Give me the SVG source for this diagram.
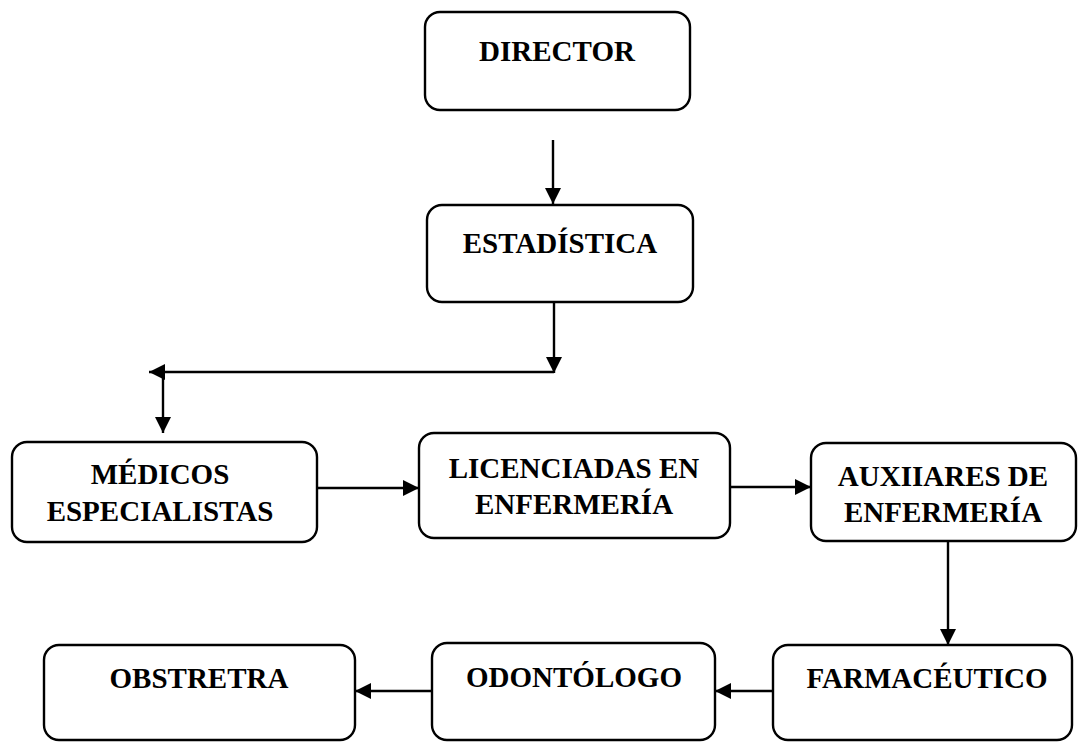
<svg xmlns="http://www.w3.org/2000/svg" width="1084" height="742" viewBox="0 0 1084 742">
<style>
.box{fill:#fff;stroke:#000;stroke-width:2.4}
.t{font-family:'Liberation Serif','Times New Roman',Times,'DejaVu Serif',serif;font-weight:700;font-size:29px;fill:#000;text-anchor:middle}
.c{fill:none;stroke:#000;stroke-width:2.4}
</style>
<defs>
<marker id="ah" viewBox="0 0 16 16" refX="16" refY="8" markerWidth="16" markerHeight="16" markerUnits="userSpaceOnUse" orient="auto">
<path d="M0,0 L16,8 L0,16 z" fill="#000"/>
</marker>
</defs>
<rect width="1084" height="742" fill="#fff"/>
<g id="connectors">
<path class="c" d="M553,140 V204" marker-end="url(#ah)"/>
<path class="c" d="M554,302 V373" marker-end="url(#ah)"/>
<path class="c" d="M554,372 H149" marker-end="url(#ah)"/>
<path class="c" d="M163,372 V433" marker-end="url(#ah)"/>
<path class="c" d="M317,488 H419" marker-end="url(#ah)"/>
<path class="c" d="M730,487 H811" marker-end="url(#ah)"/>
<path class="c" d="M948,528 V645" marker-end="url(#ah)"/>
<path class="c" d="M773,691 H715" marker-end="url(#ah)"/>
<path class="c" d="M432,691 H355" marker-end="url(#ah)"/>
</g>
<g id="director">
<rect class="box" x="425" y="12" width="265" height="98" rx="15"/>
<text class="t" font-family="Liberation Serif, serif" x="557" y="61">DIRECTOR</text>
</g>
<g id="estadistica">
<rect class="box" x="427" y="205" width="266" height="97" rx="15"/>
<text class="t" font-family="Liberation Serif, serif" x="560" y="253">ESTADÍSTICA</text>
</g>
<g id="medicos">
<rect class="box" x="12" y="442" width="305" height="100" rx="15"/>
<text class="t" font-family="Liberation Serif, serif" x="160" y="484">MÉDICOS</text>
<text class="t" font-family="Liberation Serif, serif" x="160" y="521">ESPECIALISTAS</text>
</g>
<g id="licenciadas">
<rect class="box" x="419" y="433" width="311" height="105" rx="15"/>
<text class="t" font-family="Liberation Serif, serif" x="574" y="478">LICENCIADAS EN</text>
<text class="t" font-family="Liberation Serif, serif" x="574" y="514">ENFERMERÍA</text>
</g>
<g id="auxiliares">
<rect class="box" x="811" y="443" width="265" height="98" rx="15"/>
<text class="t" font-family="Liberation Serif, serif" x="943" y="486">AUXIIARES DE</text>
<text class="t" font-family="Liberation Serif, serif" x="943" y="522">ENFERMERÍA</text>
</g>
<g id="farmaceutico">
<rect class="box" x="773" y="645" width="299" height="95" rx="15"/>
<text class="t" font-family="Liberation Serif, serif" x="927" y="688">FARMACÉUTICO</text>
</g>
<g id="odontologo">
<rect class="box" x="432" y="643" width="283" height="97" rx="15"/>
<text class="t" font-family="Liberation Serif, serif" x="574" y="687">ODONTÓLOGO</text>
</g>
<g id="obstretra">
<rect class="box" x="44" y="645" width="311" height="95" rx="15"/>
<text class="t" font-family="Liberation Serif, serif" x="199" y="688">OBSTRETRA</text>
</g>
</svg>
